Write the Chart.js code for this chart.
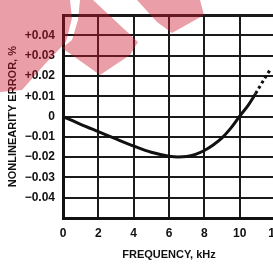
<!DOCTYPE html>
<html>
<head>
<meta charset="utf-8">
<script src="https://cdn.jsdelivr.net/npm/chart.js@4"></script>
<style>
  html, body { margin: 0; padding: 0; background: #fff; overflow: hidden; }
  #wrap { width: 290px; height: 267px; }
</style>
</head>
<body>
<div id="wrap"><canvas id="chart" width="290" height="267"></canvas></div>
<script>
// curve (kHz, %)
const freqSolid = [0, 1, 2, 3, 4, 5, 6, 6.5, 7, 7.5, 8, 8.5, 9, 9.5, 10, 10.5, 10.9];
const errSolid = [0, -0.0038, -0.0074, -0.011, -0.0145, -0.0176, -0.0195, -0.0199, -0.0197, -0.0186, -0.0167, -0.014, -0.0105, -0.0057, 0.0002, 0.0058, 0.0113];
const freqDotted = [10.9, 11.3, 11.75];
const errDotted = [0.0113, 0.0172, 0.0235];

const xTickValues = [0, 2, 4, 6, 8, 10, 12];
const xTickLabels = ['0', '2', '4', '6', '8', '10', '12'];
const yTickValues = [0.04, 0.03, 0.02, 0.01, 0, -0.01, -0.02, -0.03, -0.04];
const yTickLabels = ['+0.04', '+0.03', '+0.02', '+0.01', '0', '\u22120.01', '\u22120.02', '\u22120.03', '\u22120.04'];

const FONT = "'Liberation Sans', Arial, sans-serif";

function pts(xs, ys) {
    return xs.map((x, i) => ({ x: x, y: ys[i] }));
}

function findLabel(values, labels, v) {
    const i = values.findIndex(t => Math.abs(t - v) < 1e-6);
    return i < 0 ? '' : labels[i];
}

// pink watermark from the scanned page
const watermark = {
    id: 'watermark',
    afterDraw(chart) {
        const ctx = chart.ctx;
        const shapes = [
            [[0, 0], [70, 0], [72, 18], [66, 42], [45, 64], [22, 90], [0, 92]],
            [[80, 0], [93, 0], [138, 42], [130, 55], [100, 75], [62, 48], [72, 40], [78, 20]],
            [[137, 0], [200, 0], [204, 15], [172, 33], [157, 22]]
        ];
        ctx.save();
        ctx.fillStyle = 'rgba(205, 25, 45, 0.42)';
        shapes.forEach(s => {
            ctx.beginPath();
            s.forEach((p, i) => i ? ctx.lineTo(p[0], p[1]) : ctx.moveTo(p[0], p[1]));
            ctx.closePath();
            ctx.fill();
        });
        ctx.restore();
    }
};

new Chart(document.getElementById('chart'), {
    type: 'line',
    data: {
        datasets: [{
            data: pts(freqSolid, errSolid),
            borderColor: '#111',
            borderWidth: 3,
            pointRadius: 0,
            cubicInterpolationMode: 'monotone'
        }, {
            data: pts(freqDotted, errDotted),
            borderColor: '#111',
            borderWidth: 3,
            borderDash: [3, 3],
            pointRadius: 0
        }]
    },
    options: {
        responsive: false,
        animation: false,
        layout: { padding: { top: 3, right: 15, left: 6, bottom: 0 } },
        plugins: { legend: { display: false }, tooltip: { enabled: false } },
        scales: {
            x: {
                type: 'linear',
                min: 0, max: 12,
                afterBuildTicks: s => { s.ticks = xTickValues.map(v => ({ value: v })); },
                afterFit: s => { s.height = 49; },
                grid: { color: '#1a1a1a', lineWidth: 2, drawTicks: false },
                border: { color: '#111', width: 3 },
                ticks: {
                    color: '#111', padding: 8, maxRotation: 0,
                    font: { family: FONT, size: 12, weight: 'bold' },
                    callback: v => findLabel(xTickValues, xTickLabels, v)
                },
                title: {
                    display: true, text: 'FREQUENCY, kHz', color: '#111',
                    font: { family: FONT, size: 11, weight: 'bold' },
                    padding: { top: 4, bottom: 5 }
                }
            },
            y: {
                min: -0.05, max: 0.05,
                ticks: {
                    stepSize: 0.01, color: '#111', padding: 8,
                    font: { family: FONT, size: 12, weight: 'bold' },
                    callback: v => findLabel(yTickValues, yTickLabels, v)
                },
                afterFit: s => { s.width = 57; },
                grid: {
                    color: '#1a1a1a', drawTicks: false,
                    lineWidth: c => (c.index === c.scale.ticks.length - 1 ? 3 : 2)
                },
                border: { color: '#111', width: 3 },
                title: {
                    display: true, text: 'NONLINEARITY ERROR, %', color: '#111',
                    font: { family: FONT, size: 11, weight: 'bold' },
                    padding: { top: 0, bottom: 0 }
                }
            }
        }
    },
    plugins: [watermark]
});
</script>
</body>
</html>
